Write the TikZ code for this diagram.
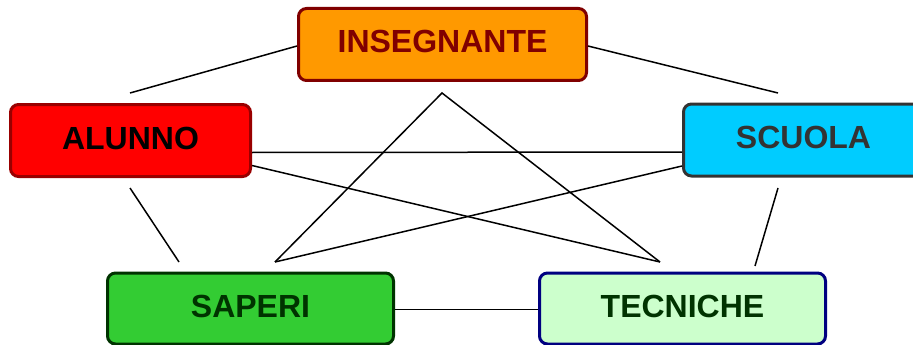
\documentclass[tikz,border=0pt]{standalone}
\usepackage{fontspec}
\setmainfont{Liberation Sans}
\definecolor{insfill}{HTML}{FF9900}
\definecolor{insline}{HTML}{800000}
\definecolor{alufill}{HTML}{FF0000}
\definecolor{aluline}{HTML}{990000}
\definecolor{scufill}{HTML}{00CCFF}
\definecolor{sculine}{HTML}{333333}
\definecolor{sapfill}{HTML}{33CC33}
\definecolor{sapline}{HTML}{003300}
\definecolor{tecfill}{HTML}{CCFFCC}
\definecolor{tecline}{HTML}{000080}
\begin{document}
\begin{tikzpicture}[x=1pt, y=-1pt,
    box/.style = {draw, rectangle, rounded corners = 8pt, line width = 3pt,
        minimum width = 240pt, minimum height = 72pt, inner sep = 0pt,
        text height = 23pt, text depth = 6pt,
        font = \fontsize{32}{36}\selectfont\bfseries},
    link/.style = {line width = 1.5pt}]
        \useasboundingbox (0, 0) rectangle (913, 345);
        \clip (0, 0) rectangle (913, 345);

        \node[box, fill = insfill, draw = insline, text = insline, minimum width = 288pt] (insegnante) at (442.5, 44.5) {INSEGNANTE};
        \node[box, fill = alufill, draw = aluline, text = black] (alunno) at (130.5, 140.5) {ALUNNO};
        \node[box, fill = scufill, draw = sculine, text = sculine] (scuola) at (803.5, 140) {SCUOLA};
        \node[box, fill = sapfill, draw = sapline, text = sapline, minimum width = 286pt, minimum height = 71pt] (saperi) at (250.5, 308.5) {SAPERI};
        \node[box, fill = tecfill, draw = tecline, text = sapline, minimum width = 286pt, minimum height = 71pt] (tecniche) at (682.5, 308.5) {TECNICHE};

        \coordinate (aluTop) at (130, 93);
        \coordinate (scuTop) at (778, 93);
        \coordinate (apex) at (442, 93);
        \coordinate (sapTop) at (275, 262);
        \coordinate (tecTop) at (660, 262);
        \coordinate (aluBot) at (130, 188);
        \coordinate (sapLeft) at (179, 262);
        \coordinate (scuBot) at (778, 188);
        \coordinate (tecRight) at (755, 266);

        \draw[link] ([yshift = -1.5pt]insegnante.west) to (aluTop);
        \draw[link] ([yshift = -1.5pt]insegnante.east) to (scuTop);
        \draw[link] (sapTop) -- (apex) -- (tecTop);
        \draw[link] ([yshift = -12pt]alunno.east) to ([yshift = -12pt]scuola.west);
        \draw[link] ([yshift = -25pt]alunno.east) to (tecTop);
        \draw[link] ([yshift = -26pt]scuola.west) to (sapTop);
        \draw[link] (aluBot) to (sapLeft);
        \draw[link] (scuBot) to (tecRight);
        \draw[link] ([yshift = -1pt]saperi.east) to ([yshift = -1pt]tecniche.west);
    \end{tikzpicture}
\end{document}
